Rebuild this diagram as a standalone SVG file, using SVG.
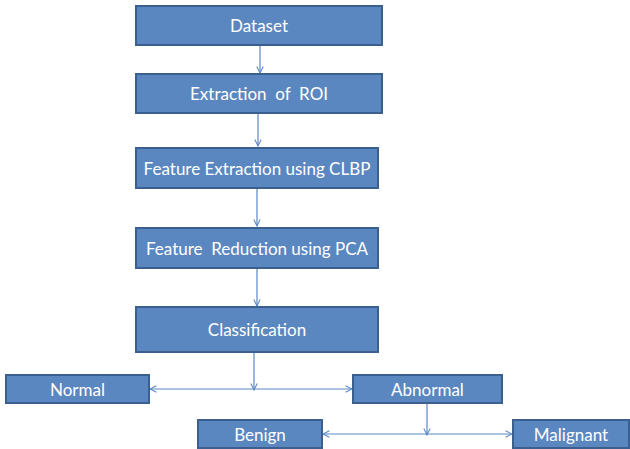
<svg xmlns="http://www.w3.org/2000/svg" width="630" height="449" viewBox="0 0 630 449">
<defs>
<style>
.box{fill:#5b87c1;stroke:#3b5f8e;stroke-width:2}
.lbl{fill:#ffffff;font-family:Lato,"Liberation Sans",sans-serif;font-size:17px;text-anchor:middle;dominant-baseline:central;white-space:pre}
.con{stroke:#5b87c4;stroke-width:1.2;fill:none}
</style>
<marker id="ah" viewBox="0 0 10 10" refX="9" refY="5" markerWidth="8" markerHeight="8" markerUnits="userSpaceOnUse" orient="auto-start-reverse">
<path d="M1,1 L9,5 L1,9" fill="none" stroke="#5b87c4" stroke-width="1.3"/>
</marker>
</defs>
<rect width="630" height="449" fill="#ffffff"/>
<g id="connectors">
<line class="con" x1="260" y1="45" x2="260" y2="73" marker-end="url(#ah)"/>
<line class="con" x1="258" y1="113" x2="258" y2="146" marker-end="url(#ah)"/>
<line class="con" x1="257" y1="188" x2="257" y2="226" marker-end="url(#ah)"/>
<line class="con" x1="257" y1="268" x2="257" y2="306" marker-end="url(#ah)"/>
<line class="con" x1="254" y1="352" x2="254" y2="390" marker-end="url(#ah)"/>
<line class="con" x1="150" y1="389" x2="352" y2="389" marker-start="url(#ah)" marker-end="url(#ah)"/>
<line class="con" x1="427" y1="403" x2="427" y2="435" marker-end="url(#ah)"/>
<line class="con" x1="323" y1="434" x2="512" y2="434" marker-start="url(#ah)" marker-end="url(#ah)"/>
</g>
<g id="dataset"><rect class="box" x="136" y="6" width="246" height="39"/><text class="lbl" x="259" y="25.5">Dataset</text></g>
<g id="roi"><rect class="box" x="136" y="74" width="246" height="39"/><text class="lbl" x="259" y="93.5" xml:space="preserve">Extraction  of  ROI</text></g>
<g id="clbp"><rect class="box" x="136" y="148" width="242" height="40"/><text class="lbl" x="257" y="168">Feature Extraction using CLBP</text></g>
<g id="pca"><rect class="box" x="136" y="228" width="242" height="40"/><text class="lbl" x="257" y="248" xml:space="preserve">Feature  Reduction using PCA</text></g>
<g id="classification"><rect class="box" x="136" y="307" width="242" height="45"/><text class="lbl" x="257" y="329.5">Classification</text></g>
<g id="normal"><rect class="box" x="6" y="375" width="143" height="28"/><text class="lbl" x="77.5" y="389">Normal</text></g>
<g id="abnormal"><rect class="box" x="353" y="375" width="149" height="28"/><text class="lbl" x="427.5" y="389">Abnormal</text></g>
<g id="benign"><rect class="box" x="198" y="420" width="124" height="28"/><text class="lbl" x="260" y="434">Benign</text></g>
<g id="malignant"><rect class="box" x="513" y="420" width="116" height="28"/><text class="lbl" x="571" y="434">Malignant</text></g>
</svg>
